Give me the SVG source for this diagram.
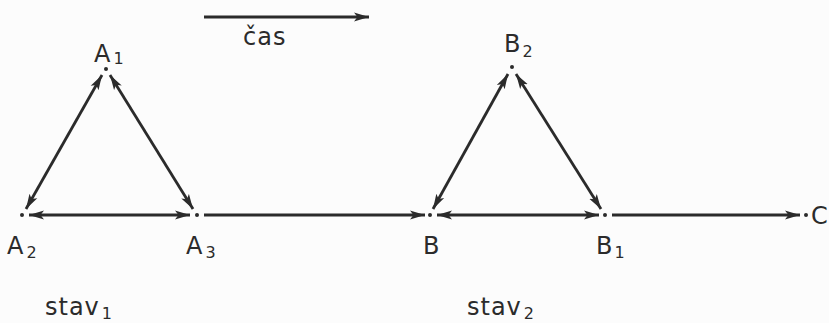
<svg xmlns="http://www.w3.org/2000/svg" width="829" height="323" viewBox="0 0 829 323">
<style>
.ln{stroke:#2b2b2b;stroke-width:2.8;fill:none}
.dt{fill:#2b2b2b}
.lb{font-family:"DejaVu Sans","Liberation Sans",sans-serif;fill:#2b2b2b;font-size:24px}
.sb{font-size:16px}
</style>
<defs>
<marker id="ah" markerUnits="userSpaceOnUse" markerWidth="18" markerHeight="12" refX="15" refY="6" orient="auto-start-reverse">
<path d="M0,1.5 L15,6 L0,10.5 L3.5,6 Z" fill="#2b2b2b"/>
</marker>
</defs>
<rect width="829" height="323" fill="#fcfcfc"/>
<g id="connectors">
<line class="ln" x1="204" y1="17" x2="369" y2="17" marker-end="url(#ah)"/>
<line class="ln" x1="26" y1="209" x2="102" y2="75" marker-start="url(#ah)" marker-end="url(#ah)"/>
<line class="ln" x1="110" y1="75" x2="193" y2="209" marker-start="url(#ah)" marker-end="url(#ah)"/>
<line class="ln" x1="29" y1="215" x2="190" y2="215" marker-start="url(#ah)" marker-end="url(#ah)"/>
<line class="ln" x1="204" y1="215" x2="425" y2="215" marker-end="url(#ah)"/>
<line class="ln" x1="437" y1="215" x2="599" y2="215" marker-start="url(#ah)" marker-end="url(#ah)"/>
<line class="ln" x1="508" y1="74" x2="433" y2="209" marker-start="url(#ah)" marker-end="url(#ah)"/>
<line class="ln" x1="516" y1="74" x2="601" y2="209" marker-start="url(#ah)" marker-end="url(#ah)"/>
<line class="ln" x1="612" y1="215" x2="800" y2="215" marker-end="url(#ah)"/>
</g>
<g id="cas"><text class="lb" x="243" y="45" letter-spacing="1">čas</text></g>
<g id="A1"><circle class="dt" cx="106" cy="69" r="2"/><text class="lb" x="94" y="62">A<tspan class="sb" dx="3" dy="2">1</tspan></text></g>
<g id="A2"><circle class="dt" cx="22" cy="215" r="2"/><text class="lb" x="7" y="254">A<tspan class="sb" dx="3" dy="4">2</tspan></text></g>
<g id="A3"><circle class="dt" cx="197" cy="215" r="2"/><text class="lb" x="186" y="254">A<tspan class="sb" dx="3" dy="4">3</tspan></text></g>
<g id="B"><circle class="dt" cx="430" cy="215" r="2"/><text class="lb" x="423" y="254">B</text></g>
<g id="B1"><circle class="dt" cx="605" cy="215" r="2"/><text class="lb" x="596" y="254">B<tspan class="sb" dx="2" dy="4">1</tspan></text></g>
<g id="B2"><circle class="dt" cx="512" cy="67" r="2"/><text class="lb" x="504" y="52">B<tspan class="sb" dx="2" dy="5">2</tspan></text></g>
<g id="C"><circle class="dt" cx="806" cy="215" r="2"/><text class="lb" x="811" y="224">C</text></g>
<g id="stav1"><text class="lb" x="45" y="315" letter-spacing="1">stav<tspan class="sb" dx="2" dy="4">1</tspan></text></g>
<g id="stav2"><text class="lb" x="467" y="315" letter-spacing="1">stav<tspan class="sb" dx="2" dy="4">2</tspan></text></g>
</svg>
